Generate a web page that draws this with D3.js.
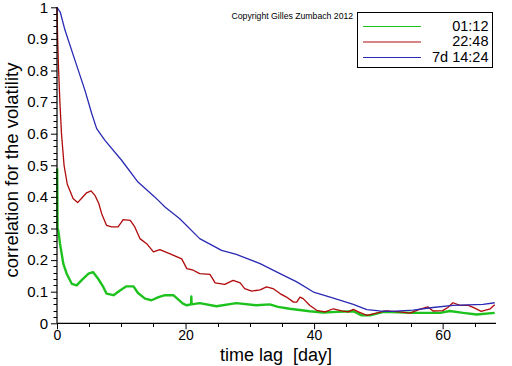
<!DOCTYPE html>
<html><head><meta charset="utf-8">
<script src="https://cdn.jsdelivr.net/npm/d3@7"></script>
<style>
html,body{margin:0;padding:0;background:#fff;}
svg{display:block;font-family:"Liberation Sans",Arial,sans-serif;}
</style></head>
<body>
<svg id="chart" width="512" height="366"></svg>
<script>
// ---- data ----
const seriesNames = ["01:12", "22:48", "7d 14:24"];
const seriesColors = ["#1ec21e", "#b00a0a", "#2a2ab4"];

const greenT = [0.03,0.08,0.2,0.47,0.98,1.5,2.3,3.06,3.8,4.9,5.6,6.4,7.2,7.7,8.8,9.8,10.8,11.9,12.6,13.7,14.7,15.8,16.8,18.1,19.6,20.2,20.85,20.9,20.95,22.2,24.8,27.9,31.0,33.1,34.4,36.2,39.3,41.4,43.5,46.1,47.4,48.7,50.8,55.4,59.6,61.1,63.2,65.3,68.1];
const greenV = [0.49,0.30,0.294,0.252,0.189,0.157,0.125,0.12,0.136,0.157,0.162,0.141,0.115,0.094,0.089,0.104,0.117,0.117,0.096,0.078,0.073,0.083,0.089,0.089,0.062,0.057,0.06,0.085,0.06,0.064,0.054,0.064,0.057,0.06,0.052,0.046,0.038,0.034,0.036,0.038,0.025,0.025,0.036,0.033,0.033,0.039,0.033,0.028,0.033];

const redT = [0,0.1,0.25,0.45,0.7,1.1,1.6,2.0,2.5,3.2,3.8,4.6,5.3,5.9,6.5,6.95,7.7,8.5,9.5,10.3,11.4,12.1,12.9,13.95,15.0,16.0,17.6,19.4,20.2,21.2,22.2,23.8,24.6,26.1,27.4,28.5,29.2,30.3,31.6,32.6,33.6,34.7,35.7,36.8,37.3,37.8,38.3,39.3,40.4,41.7,43.0,44.3,45.3,46.1,46.9,48.2,49.2,50.8,51.3,53.3,54.9,56.5,57.7,58.5,60.0,60.8,61.6,62.7,64.0,65.0,66.0,67.4,68.1];
const redV = [1.0,0.9,0.8,0.7,0.6,0.5,0.44,0.42,0.395,0.382,0.395,0.413,0.419,0.405,0.379,0.347,0.31,0.305,0.305,0.328,0.326,0.305,0.268,0.252,0.226,0.233,0.22,0.204,0.173,0.168,0.157,0.155,0.128,0.123,0.136,0.128,0.11,0.102,0.106,0.115,0.11,0.094,0.083,0.067,0.067,0.083,0.078,0.057,0.041,0.036,0.046,0.039,0.036,0.044,0.036,0.025,0.03,0.038,0.039,0.036,0.032,0.045,0.052,0.039,0.040,0.05,0.065,0.057,0.057,0.048,0.038,0.046,0.059];

const blueT = [0,0.5,1.24,2.8,4.35,5.4,6.17,7.46,10.05,12.6,15.2,16.8,19.1,22.2,25.6,27.9,31.6,34.7,37.3,39.9,42.5,46.1,48.2,50.2,52,55.4,58.5,61.6,66.3,68.1];
const blueV = [1,0.985,0.928,0.832,0.737,0.664,0.616,0.579,0.516,0.447,0.40,0.368,0.331,0.268,0.231,0.218,0.189,0.157,0.131,0.099,0.083,0.060,0.043,0.039,0.038,0.042,0.050,0.057,0.060,0.065];

const xTickLabels = [0, 20, 40, 60];
const yTickLabels = [0,0.1,0.2,0.3,0.4,0.5,0.6,0.7,0.8,0.9,1];

// ---- drawing ----
const svg = d3.select("#chart");
const x = d3.scaleLinear().domain([0, 68.3]).range([57, 496]);
const y = d3.scaleLinear().domain([0, 1]).range([323.3, 7.3]);

const series = [
  {name: seriesNames[0], color: seriesColors[0], t: greenT, v: greenV, w: 2.4},
  {name: seriesNames[1], color: seriesColors[1], t: redT, v: redV, w: 1.3},
  {name: seriesNames[2], color: seriesColors[2], t: blueT, v: blueV, w: 1.3}
];

const line = d3.line().x(d => x(d[0])).y(d => y(d[1]));
series.forEach(s => {
  svg.append("path")
    .datum(s.t.map((t, i) => [t, s.v[i]]))
    .attr("d", line)
    .attr("fill", "none")
    .attr("stroke", s.color)
    .attr("stroke-width", s.w)
    .attr("stroke-linejoin", "round");
});

// y axis minor ticks
const yMinor = d3.range(0, 1.0001, 0.02).filter(v => Math.abs(v*10 - Math.round(v*10)) > 1e-6);
const gy = svg.append("g");
gy.selectAll("line.minor").data(yMinor).enter().append("line")
  .attr("x1", 53.5).attr("x2", 57).attr("y1", d => Math.round(y(d)) + 0.5).attr("y2", d => Math.round(y(d)) + 0.5)
  .attr("stroke", "#000").attr("stroke-width", 1);
const yAxis = d3.axisLeft(y).tickValues(yTickLabels).tickSize(6).tickPadding(3)
  .tickFormat(d => d === 0 || d === 1 ? d3.format("d")(d) : d3.format(".1f")(d));
const gya = svg.append("g").attr("transform", "translate(57,0)").call(yAxis);
gya.select(".domain").attr("d", `M0,${y(1)}V${y(0)}`).attr("stroke-width", 1.2);
gya.selectAll("text").attr("font-size", "15px").attr("font-family", "Liberation Sans, Arial, sans-serif").attr("fill", "#000");

// x axis
const xMinor = d3.range(5, 68.3, 5).filter(v => v % 20 !== 0);
svg.append("g").selectAll("line").data(xMinor).enter().append("line")
  .attr("x1", d => Math.round(x(d)) + 0.5).attr("x2", d => Math.round(x(d)) + 0.5)
  .attr("y1", 323).attr("y2", 327).attr("stroke", "#000");
const xAxis = d3.axisBottom(x).tickValues(xTickLabels).tickSize(6).tickPadding(1).tickFormat(d3.format("d"));
const gxa = svg.append("g").attr("transform", "translate(0,323.3)").call(xAxis);
gxa.select(".domain").attr("d", `M${x(0)},0H496`).attr("stroke-width", 1.2);
gxa.selectAll("text").attr("font-size", "14px").attr("font-family", "Liberation Sans, Arial, sans-serif").attr("fill", "#000");

// axis titles
svg.append("text")
  .attr("transform", "translate(18,170) rotate(-90)")
  .attr("text-anchor", "middle")
  .attr("font-size", "18.5px")
  .attr("fill", "#000")
  .text("correlation for the volatility");
svg.append("text")
  .attr("x", 276).attr("y", 361)
  .attr("text-anchor", "middle")
  .attr("font-size", "18px")
  .attr("fill", "#000")
  .style("white-space", "pre")
  .text("time lag  [day]");

// copyright
svg.append("text")
  .attr("x", 231.5).attr("y", 18.5)
  .attr("font-size", "8.7px")
  .attr("fill", "#000")
  .text("Copyright Gilles Zumbach 2012");

// legend
const lg = svg.append("g");
lg.append("rect").attr("x", 357.5).attr("y", 12.5).attr("width", 135).attr("height", 55)
  .attr("fill", "#fff").attr("stroke", "#000").attr("stroke-width", 1);
const legY = [26, 41.5, 57];
const legBase = [30.5, 46, 61.5];
series.forEach((s, i) => {
  lg.append("line").attr("x1", 363).attr("x2", 421).attr("y1", legY[i] + 0.5).attr("y2", legY[i] + 0.5)
    .attr("stroke", s.color).attr("stroke-width", 1.2);
  lg.append("text").attr("x", 488.5).attr("y", legBase[i]).attr("text-anchor", "end")
    .attr("font-size", "14.5px").attr("fill", "#000")
    .style("white-space", "pre")
    .text(s.name);
});
</script>
</body></html>
